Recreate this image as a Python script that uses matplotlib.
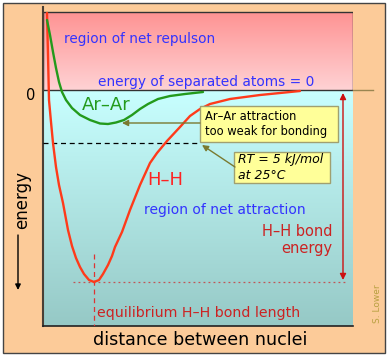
import numpy as np
import matplotlib
matplotlib.use("Agg")
import matplotlib.pyplot as plt
from matplotlib.patches import Rectangle
from matplotlib.colors import LinearSegmentedColormap

# --- curve data (distance in arbitrary units, energy in arbitrary units) ---
hh_dist = [0.04, 0.05, 0.06, 0.08, 0.10, 0.13, 0.16, 0.20, 0.25, 0.29, 0.33, 0.37,
           0.41, 0.46, 0.51, 0.56, 0.60, 0.65, 0.69, 0.72, 0.79, 0.87, 0.97, 1.07,
           1.14, 1.24, 1.37, 1.47, 1.57, 1.67, 1.87, 2.17, 2.57]
hh_energy = [7.7, 3.5, -1.0, -3.2, -5.3, -7.7, -9.5, -11.3, -14.0, -15.6, -16.8, -17.7,
             -18.4, -19.0, -19.2, -19.0, -18.4, -17.5, -16.6, -15.7, -14.2, -12.0, -9.5, -7.3,
             -6.3, -5.1, -3.7, -2.6, -1.9, -1.4, -0.9, -0.5, -0.1]

arar_dist = [0.04, 0.07, 0.10, 0.13, 0.16, 0.19, 0.23, 0.29, 0.37, 0.47, 0.57, 0.65,
             0.73, 0.81, 0.89, 0.97, 1.05, 1.15, 1.27, 1.42, 1.60]
arar_energy = [7.0, 5.5, 3.8, 2.2, 0.8, -0.2, -1.0, -1.8, -2.5, -3.0, -3.35, -3.4,
               -3.25, -3.0, -2.5, -1.9, -1.4, -0.9, -0.6, -0.4, -0.2]

hh_min_dist = 0.51
hh_min_energy = -19.2
rt_level = -5.3
arar_min = (0.79, -3.3)

E_TOP, E_BOT = 8.3, -23.6
D_MAX = 3.1

W, H = 389, 356
PEACH = "#fccb99"
RED = "#ff3a1a"
DARKRED = "#cc2222"
BLUE = "#3333ff"
GREEN = "#239a1c"
OLIVE = "#7a7a30"


def fx(px):
    return px / W


def fy(py):
    return 1 - py / H


fig = plt.figure(figsize=(W / 100, H / 100), dpi=100, facecolor="white")
fig.patches.append(Rectangle((fx(3), fy(353)), fx(382), 350 / H, transform=fig.transFigure,
                             facecolor=PEACH, edgecolor="#444444", lw=1, zorder=-5))

ax = fig.add_axes([fx(43), fy(326), fx(310), 319 / H])
ax.set_facecolor("none")

# background gradients
pink = LinearSegmentedColormap.from_list("pink", ["#fe9393", "#ffd2d4"])
cyan = LinearSegmentedColormap.from_list("cyan", ["#c8ffff", "#96c9c6"])
grad = np.linspace(0, 1, 200).reshape(-1, 1)
ax.imshow(grad, cmap=pink, extent=[0, D_MAX, 0, 7.8], aspect="auto", zorder=0)
ax.imshow(grad, cmap=cyan, extent=[0, D_MAX - 0.01, E_BOT, 0], aspect="auto", zorder=0)
ax.add_patch(Rectangle((0, 0), D_MAX, 7.8, fill=False, edgecolor="#333333", lw=1, zorder=2))
ax.plot([D_MAX, D_MAX + 0.2], [0, 0], color="#9a8550", lw=1, clip_on=False, zorder=2)

ax.set_xlim(0, D_MAX)
ax.set_ylim(E_BOT, E_TOP)
ax.set_xticks([])
ax.set_yticks([])
for s in ["top", "right"]:
    ax.spines[s].set_visible(False)
ax.spines["left"].set_color("#4a3f35")
ax.spines["left"].set_linewidth(1.5)
ax.spines["bottom"].set_color("#222222")
ax.spines["bottom"].set_linewidth(1.2)

# curves
ax.plot(hh_dist, hh_energy, color=RED, lw=1.7, zorder=4, solid_capstyle="round",
        solid_joinstyle="round")
ax.plot(arar_dist, arar_energy, color=GREEN, lw=1.7, zorder=4, solid_capstyle="round",
        solid_joinstyle="round")

# reference lines
ax.plot([0, 1.57], [rt_level, rt_level], color="black", lw=0.9, ls=(0, (4, 3)), zorder=3)
ax.plot([0.30, 3.04], [hh_min_energy, hh_min_energy], color="#c05555", lw=0.9,
        ls=(0, (1.5, 2.5)), zorder=3)
ax.plot([hh_min_dist, hh_min_dist], [-16.4, E_BOT], color="#dd3333", lw=0.9,
        ls=(0, (4, 3)), zorder=3)

# bond energy double arrow
ax.annotate("", xy=(3.0, -0.3), xytext=(3.0, -19.0),
            arrowprops=dict(arrowstyle="<|-|>", color="#cc1111", lw=1, mutation_scale=9,
                            shrinkA=0, shrinkB=0), zorder=3)

# yellow boxes
ax.add_patch(Rectangle((1.57, -5.2), 1.38, 3.6, facecolor="#ffff99", edgecolor="#a0a070",
                       lw=1, zorder=5))
ax.text(1.62, -3.4, "Ar–Ar attraction\ntoo weak for bonding", fontsize=8.3, ha="left",
        va="center", color="black", linespacing=1.2, zorder=6)
ax.add_patch(Rectangle((1.91, -9.3), 0.96, 3.1, facecolor="#ffff99", edgecolor="#a0a070",
                       lw=1, zorder=5))
ax.text(1.95, -7.75, "RT = 5 kJ/mol\nat 25°C", fontsize=9, style="italic", ha="left",
        va="center", color="black", linespacing=1.25, zorder=6)

ax.annotate("", xy=arar_min, xytext=(1.57, arar_min[1]),
            arrowprops=dict(arrowstyle="-|>", color=OLIVE, lw=1, mutation_scale=9,
                            shrinkA=0, shrinkB=0), zorder=5)
ax.annotate("", xy=(1.59, -5.5), xytext=(1.92, -7.7),
            arrowprops=dict(arrowstyle="-|>", color=OLIVE, lw=1, mutation_scale=9,
                            shrinkA=0, shrinkB=0), zorder=5)

# labels inside the plot
ax.text(0.21, 5.1, "region of net repulson", fontsize=9.8, color=BLUE, va="center", zorder=6)
ax.text(0.55, 0.8, "energy of separated atoms = 0", fontsize=9.9, color=BLUE, va="center",
        zorder=6)
ax.text(0.39, -1.5, "Ar–Ar", fontsize=13, color=GREEN, va="center", zorder=6)
ax.text(1.04, -9.0, "H–H", fontsize=13, color="#ff2222", va="center", zorder=6)
ax.text(1.01, -12.0, "region of net attraction", fontsize=10, color=BLUE, va="center", zorder=6)
ax.text(2.89, -15.0, "H–H bond\nenergy", fontsize=10.5, color=DARKRED, ha="right",
        va="center", linespacing=1.2, zorder=6)
ax.text(0.54, -22.3, "equilibrium H–H bond length", fontsize=10.2, color=DARKRED,
        va="center", zorder=6)
ax.text(-0.12, -0.5, "0", fontsize=10.5, ha="center", va="center", clip_on=False)

# outer labels
fig.text(fx(200), fy(340), "distance between nuclei", fontsize=12.6, ha="center",
         va="center")
fig.text(fx(22), fy(200), "energy", fontsize=12, rotation=90, ha="center", va="center")
ax.annotate("", xy=(18, H - 290), xytext=(18, H - 235), xycoords="figure pixels",
            textcoords="figure pixels", annotation_clip=False,
            arrowprops=dict(arrowstyle="-|>", color="black", lw=1, mutation_scale=8,
                            shrinkA=0, shrinkB=0))
fig.text(fx(378), fy(304), "S. Lower", fontsize=6.5, color="#b8a040", rotation=90,
         ha="center", va="center")

fig.savefig("out.png", dpi=100)
